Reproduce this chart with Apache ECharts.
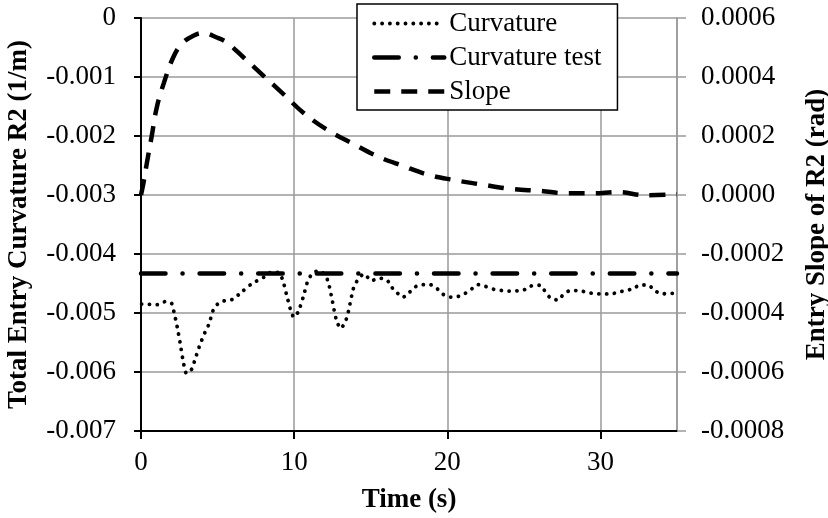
<!DOCTYPE html>
<html>
<head>
<meta charset="utf-8">
<script src="https://cdn.jsdelivr.net/npm/echarts@6/dist/echarts.min.js"></script>
<style>html,body{margin:0;padding:0;background:#fff}#c{width:828px;height:518px}</style>
</head>
<body>
<div id="c"></div>
<script>
// ---- data ----
var curvTime = [0.04,1.07,1.57,2.0,2.15,2.37,2.55,2.72,2.98,3.31,3.48,3.81,4.22,4.44,4.72,5.05,5.48,5.98,6.42,7.22,8.09,8.49,8.97,9.25,9.51,9.77,9.99,10.27,10.6,10.88,11.14,11.58,12.0,12.23,12.45,12.77,13.05,13.38,13.53,13.86,14.08,14.56,15.06,15.56,16.04,16.36,16.7,17.08,17.45,17.89,18.39,18.87,19.3,19.7,20.2,20.7,21.15,21.6,22.0,22.5,23.05,23.6,24.1,24.7,25.2,25.6,26.05,26.43,26.76,27.24,27.6,28.05,28.6,29.1,29.6,30.07,30.6,31.16,31.6,32.1,32.6,33.1,33.55,34.0,34.5,35.0];
var curvValue = [-0.004848,-0.004859,-0.004808,-0.004837,-0.004978,-0.005244,-0.005499,-0.005765,-0.006025,-0.005952,-0.005828,-0.005567,-0.005301,-0.005187,-0.004950,-0.004837,-0.004791,-0.004769,-0.004678,-0.004508,-0.004383,-0.00431,-0.00431,-0.00444,-0.004695,-0.00495,-0.005074,-0.004978,-0.004723,-0.004463,-0.00435,-0.004281,-0.00435,-0.00448,-0.004735,-0.005131,-0.005262,-0.00512,-0.00499,-0.004593,-0.004468,-0.004338,-0.004451,-0.004411,-0.004434,-0.00456,-0.00465,-0.004735,-0.00467,-0.00456,-0.00452,-0.00452,-0.00458,-0.00468,-0.00473,-0.00472,-0.00467,-0.00459,-0.00452,-0.00455,-0.0046,-0.00462,-0.00463,-0.00462,-0.004593,-0.00453,-0.00453,-0.00465,-0.004751,-0.004779,-0.00468,-0.00462,-0.00462,-0.00465,-0.00467,-0.004677,-0.004677,-0.00465,-0.00462,-0.004593,-0.004525,-0.004525,-0.00462,-0.004677,-0.004666,-0.004666];
var testTime = [0, 35];
var testValue = [-0.00433, -0.00433];
var slopeTime = [0,0.15,0.37,0.7,1.03,1.5,2.1,2.65,3.42,4.07,4.95,5.6,6.7,8.0,9.3,10.6,12.1,13.9,15.4,17.1,18.8,20.4,22.2,24.1,26.1,27.8,29.5,31.1,33.0,35];
var slopeValue = [0,0.0000374,0.000105,0.0002,0.000297,0.000381,0.000466,0.000512,0.00054,0.000549,0.000534,0.000517,0.000466,0.000404,0.000342,0.000279,0.000223,0.000172,0.000132,0.0000985,0.000068,0.000051,0.000036,0.000021,0.0000136,0.0000058,0.0000058,0.00001,-0.000001,0.0000024];
var seriesNames = ['Curvature', 'Curvature test', 'Slope'];
var xTitle = 'Time (s)';
var yLeftTitle = 'Total Entry Curvature R2 (1/m)';
var yRightTitle = 'Entry Slope of R2 (rad)';

function pairs(xs, ys) { return xs.map(function (x, i) { return [x, ys[i]]; }); }

var FONT = 'Liberation Serif';
var GRID = '#9a9a9a';
var styles = [
  {color: '#000', width: 3.8, type: [0.1, 7.7], cap: 'round'},
  {color: '#000', width: 4.5, type: [24.5, 17, 0.1, 17], cap: 'round'},
  {color: '#000', width: 4.5, type: [16, 11], cap: 'butt'}
];
var hidden = {color: 'rgba(0,0,0,0)', borderWidth: 0, opacity: 0};

var chart = echarts.init(document.getElementById('c'), null, {renderer: 'canvas'});
chart.setOption({
  animation: false,
  backgroundColor: '#fff',
  textStyle: {fontFamily: FONT},
  grid: {left: 141, right: 151, top: 18, bottom: 87, containLabel: false, outerBoundsMode: 'none'},
  legend: {
    data: seriesNames.map(function (n, i) {
      return {name: n, itemStyle: hidden, lineStyle: styles[i]};
    }),
    orient: 'vertical',
    left: 357, top: 4,
    padding: [6, 16, 5, 15],
    itemGap: 7,
    itemWidth: 70,
    itemHeight: 14,
    itemStyle: hidden,
    backgroundColor: '#fff',
    borderColor: '#000',
    borderWidth: 1.5,
    borderRadius: 0,
    textStyle: {fontFamily: FONT, fontSize: 27, lineHeight: 27, color: '#000'}
  },
  xAxis: {
    type: 'value', min: 0, max: 35, interval: 10,
    name: xTitle, nameLocation: 'middle', nameGap: 56,
    nameTextStyle: {fontFamily: FONT, fontSize: 27, fontWeight: 'bold', color: '#000'},
    axisLine: {show: true, onZero: false, lineStyle: {color: '#000', width: 2}},
    axisTick: {show: true, inside: false, length: 8, lineStyle: {color: '#000', width: 2}},
    axisLabel: {fontFamily: FONT, fontSize: 27, color: '#000', margin: 18, showMaxLabel: false},
    splitLine: {show: true, lineStyle: {color: GRID, width: 1.5}}
  },
  yAxis: [{
    type: 'value', position: 'left', min: -0.007, max: 0, interval: 0.001,
    name: yLeftTitle, nameLocation: 'middle', nameGap: 108, nameRotate: 90,
    nameTextStyle: {fontFamily: FONT, fontSize: 27, fontWeight: 'bold', color: '#000'},
    axisLine: {show: true, onZero: false, lineStyle: {color: '#000', width: 2}},
    axisTick: {show: true, inside: false, length: 7, lineStyle: {color: '#000', width: 2}},
    axisLabel: {fontFamily: FONT, fontSize: 27, color: '#000', margin: 25,
      formatter: function (v) { return Math.abs(v) < 1e-12 ? '0' : v.toFixed(3); }},
    splitLine: {show: true, lineStyle: {color: GRID, width: 1.5}}
  }, {
    type: 'value', position: 'right', min: -0.0008, max: 0.0006, interval: 0.0002,
    name: yRightTitle, nameLocation: 'middle', nameGap: 127, nameRotate: 90,
    nameTextStyle: {fontFamily: FONT, fontSize: 27, fontWeight: 'bold', color: '#000'},
    axisLine: {show: true, onZero: false, lineStyle: {color: GRID, width: 1.5}},
    axisTick: {show: true, inside: false, length: 9, lineStyle: {color: GRID, width: 1.5}},
    axisLabel: {fontFamily: FONT, fontSize: 27, color: '#000', margin: 24,
      formatter: function (v) { return (Math.abs(v) < 1e-12 ? 0 : v).toFixed(4); }},
    splitLine: {show: false}
  }],
  series: [{
    name: seriesNames[0], type: 'line', yAxisIndex: 0, symbol: 'none', smooth: 0.25,
    data: pairs(curvTime, curvValue),
    lineStyle: styles[0],
    itemStyle: {color: '#000'}
  }, {
    name: seriesNames[1], type: 'line', yAxisIndex: 0, symbol: 'none',
    data: pairs(testTime, testValue),
    lineStyle: styles[1],
    itemStyle: {color: '#000'}
  }, {
    name: seriesNames[2], type: 'line', yAxisIndex: 1, symbol: 'none', smooth: 0.4,
    data: pairs(slopeTime, slopeValue),
    lineStyle: styles[2],
    itemStyle: {color: '#000'}
  }]
});
</script>
</body>
</html>
